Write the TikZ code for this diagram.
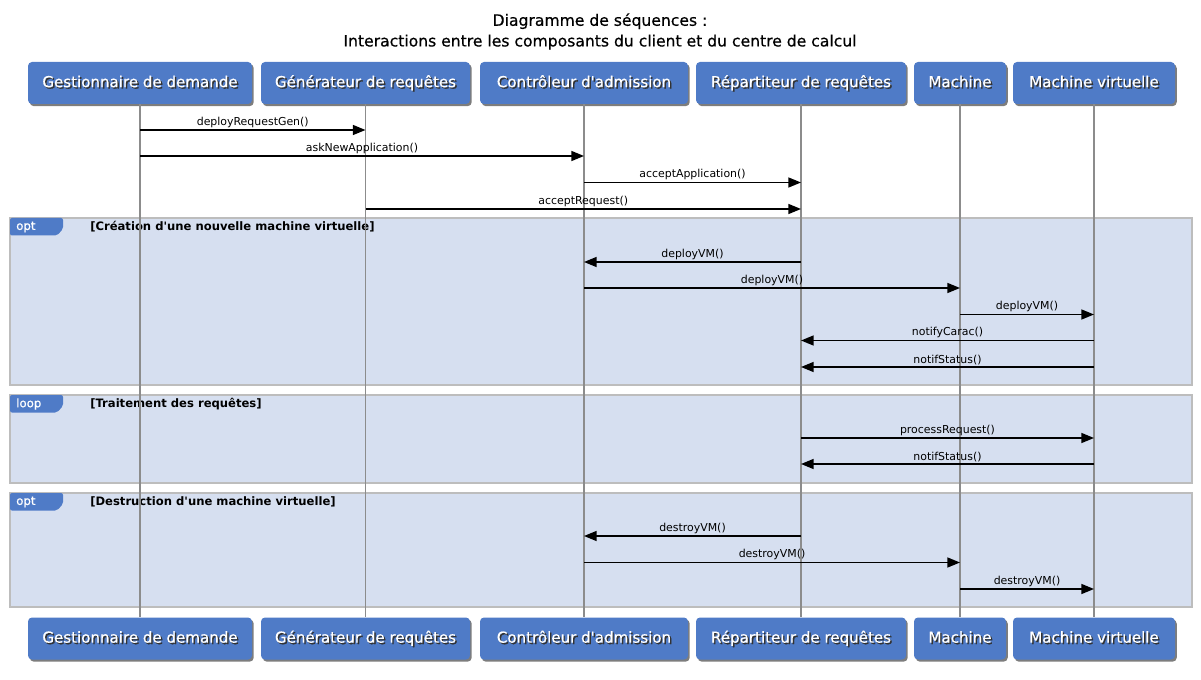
\documentclass[tikz,border=0pt]{standalone}
\usepackage{fontspec}
\newfontfamily\dv{DejaVu Sans}
\newfontfamily\dvm{DejaVu Sans}[FakeBold=0.5]
\usetikzlibrary{arrows.meta,shadows}
\definecolor{boxblue}{HTML}{4F7BC7}
\definecolor{framefill}{HTML}{D6DFF0}
\definecolor{framedraw}{HTML}{BDBDBD}
\definecolor{lifegray}{HTML}{8C8C8C}
\newcommand\shtext[1]{\rlap{\kern1.1pt\raisebox{-1.1pt}{\textcolor{black!80}{#1}}}\textcolor{white}{#1}}
\begin{document}
\begin{tikzpicture}[x=0.75pt,y=-0.75pt,
  every node/.style={font=\dv},
  part/.style={fill=boxblue, rounded corners=3pt, minimum height=31.5pt, inner sep=0pt,
    text height=8.6pt, text depth=2.4pt,
    font=\dvm\fontsize{11.3}{13}\selectfont, text=white,
    drop shadow={shadow xshift=1.3pt, shadow yshift=-1.6pt, opacity=0.6, fill=black!85}},
  life/.style={draw=lifegray, line width=0.9pt},
  msg/.style={draw=black, line width=1.1pt, -{Triangle[length=9.5pt,width=7.5pt]}},
  lbl/.style={above, inner sep=1.2pt, font=\dv\fontsize{8.2}{9}\selectfont},
  frame/.style={fill=framefill, draw=framedraw, line width=1.1pt},
  tab/.style={fill=boxblue, rounded corners=1.5pt},
  tabtxt/.style={anchor=west, inner sep=0pt, text=white, font=\dvm\fontsize{8.8}{10}\selectfont},
  guard/.style={anchor=west, inner sep=0pt, font=\dv\bfseries\fontsize{8.7}{10}\selectfont}
]
\useasboundingbox (0,0) rectangle (1201,680);

% title
\node[font=\dvm\fontsize{11.7}{15.5}\selectfont, align=center, inner sep=0pt] (title) at (600,31.5)
  {Diagramme de séquences :\\Interactions entre les composants du client et du centre de calcul};

% participants (top)
\node[part, minimum width=168pt] (gest) at (140,83) {\shtext{Gestionnaire de demande}};
\node[part, minimum width=156.75pt] (gen) at (365.5,83) {\shtext{Générateur de requêtes}};
\node[part, minimum width=156pt] (ctrl) at (584,83) {\shtext{Contrôleur d'admission}};
\node[part, minimum width=157.5pt] (rep) at (801,83) {\shtext{Répartiteur de requêtes}};
\node[part, minimum width=69pt] (mach) at (960,83) {\shtext{Machine}};
\node[part, minimum width=121.5pt] (vm) at (1094,83) {\shtext{Machine virtuelle}};
% participants (bottom)
\node[part, minimum width=168pt] (gestB) at (140,638.5) {\shtext{Gestionnaire de demande}};
\node[part, minimum width=156.75pt] (genB) at (365.5,638.5) {\shtext{Générateur de requêtes}};
\node[part, minimum width=156pt] (ctrlB) at (584,638.5) {\shtext{Contrôleur d'admission}};
\node[part, minimum width=157.5pt] (repB) at (801,638.5) {\shtext{Répartiteur de requêtes}};
\node[part, minimum width=69pt] (machB) at (960,638.5) {\shtext{Machine}};
\node[part, minimum width=121.5pt] (vmB) at (1094,638.5) {\shtext{Machine virtuelle}};

% frames
\path[frame] (10,218) rectangle (1192,385);
\path[tab] (10,218) -- (63,218) -- (63,229) -- (57,235.5) -- (10,235.5) -- cycle;
\node[tabtxt] (t1) at (16,227) {opt};
\node[guard] (g1) at (90,227) {[Création d'une nouvelle machine virtuelle]};

\path[frame] (10,395) rectangle (1192,483);
\path[tab] (10,395) -- (63,395) -- (63,406) -- (57,412.5) -- (10,412.5) -- cycle;
\node[tabtxt] (t2) at (16,404) {loop};
\node[guard] (g2) at (90,404) {[Traitement des requêtes]};

\path[frame] (10,493) rectangle (1192,607);
\path[tab] (10,493) -- (63,493) -- (63,504) -- (57,510.5) -- (10,510.5) -- cycle;
\node[tabtxt] (t3) at (16,502) {opt};
\node[guard] (g3) at (90,502) {[Destruction d'une machine virtuelle]};

% lifelines
\foreach \a in {gest,gen,ctrl,rep,mach,vm}{
  \draw[life] (\a.south) -- (\a B.north);
}

% message levels
\coordinate (m1) at (0,130);
\coordinate (m2) at (0,156);
\coordinate (m3) at (0,182.5);
\coordinate (m4) at (0,209);
\coordinate (m5) at (0,262);
\coordinate (m6) at (0,288);
\coordinate (m7) at (0,314.5);
\coordinate (m8) at (0,340.5);
\coordinate (m9) at (0,367);
\coordinate (m10) at (0,438);
\coordinate (m11) at (0,464);
\coordinate (m12) at (0,536);
\coordinate (m13) at (0,562.5);
\coordinate (m14) at (0,589);

\draw[msg] (gest |- m1) -- node[lbl] {deployRequestGen()} (gen |- m1);
\draw[msg] (gest |- m2) -- node[lbl] {askNewApplication()} (ctrl |- m2);
\draw[msg] (ctrl |- m3) -- node[lbl] {acceptApplication()} (rep |- m3);
\draw[msg] (gen |- m4) -- node[lbl] {acceptRequest()} (rep |- m4);
\draw[msg] (rep |- m5) -- node[lbl] {deployVM()} (ctrl |- m5);
\draw[msg] (ctrl |- m6) -- node[lbl] {deployVM()} (mach |- m6);
\draw[msg] (mach |- m7) -- node[lbl] {deployVM()} (vm |- m7);
\draw[msg] (vm |- m8) -- node[lbl] {notifyCarac()} (rep |- m8);
\draw[msg] (vm |- m9) -- node[lbl] {notifStatus()} (rep |- m9);
\draw[msg] (rep |- m10) -- node[lbl] {processRequest()} (vm |- m10);
\draw[msg] (vm |- m11) -- node[lbl] {notifStatus()} (rep |- m11);
\draw[msg] (rep |- m12) -- node[lbl] {destroyVM()} (ctrl |- m12);
\draw[msg] (ctrl |- m13) -- node[lbl] {destroyVM()} (mach |- m13);
\draw[msg] (mach |- m14) -- node[lbl] {destroyVM()} (vm |- m14);
\end{tikzpicture}
\end{document}
